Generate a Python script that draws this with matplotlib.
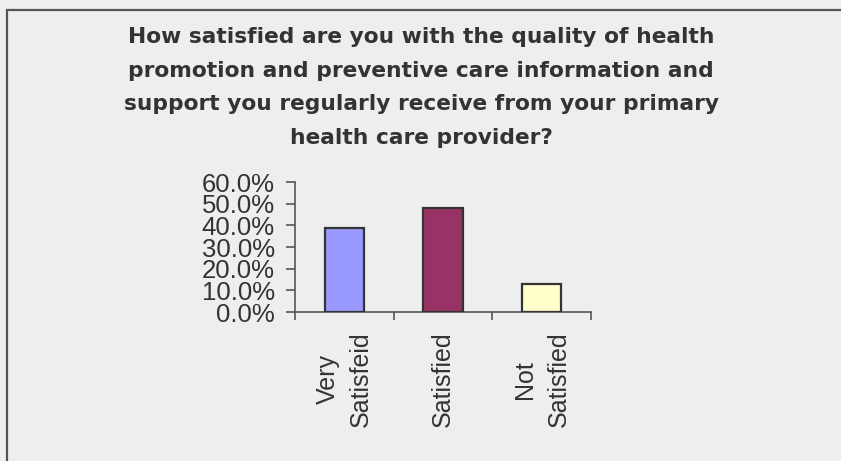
import matplotlib
matplotlib.use("Agg")
import matplotlib.pyplot as plt
from matplotlib.patches import Rectangle

categories = ["Very\nSatisfeid", "Satisfied", "Not\nSatisfied"]
values = [39.0, 48.0, 13.0]
colors = ["#9999FF", "#993366", "#FFFFCC"]
yticks = [0, 10, 20, 30, 40, 50, 60]
title = ("How satisfied are you with the quality of health\n"
         "promotion and preventive care information and\n"
         "support you regularly receive from your primary\n"
         "health care provider?")

W, H = 841, 461
fig = plt.figure(figsize=(W / 100, H / 100), dpi=100, facecolor="#eeeeee")

# border (only top and left visible in the crop)
fig.patches.append(Rectangle((7 / W, -0.1), 1.2, 1.1 - 10 / H, transform=fig.transFigure,
                             fill=False, edgecolor="#555555", linewidth=1.6))

fig.text(0.501, 1 - 27 / H, title, ha="center", va="top", fontsize=15.7, fontweight="bold",
         color="#333333", family="DejaVu Sans", linespacing=1.85)

ax = fig.add_axes([295 / W, (H - 312) / H, 296 / W, 130 / H])
ax.set_facecolor("#eeeeee")
x = list(range(len(values)))
ax.bar(x, values, width=0.4, color=colors, edgecolor="#333333", linewidth=1.6, zorder=3)

ax.set_xlim(-0.5, 2.5)
ax.set_ylim(0, 60)
for s in ["top", "right"]:
    ax.spines[s].set_visible(False)
for s in ["left", "bottom"]:
    ax.spines[s].set_color("#555555")
    ax.spines[s].set_linewidth(1.2)

ax.set_yticks(yticks)
ax.set_yticklabels([f"{v:.1f}%" for v in yticks])
ax.tick_params(axis="y", direction="out", length=6.5, width=1.2, color="#555555",
               pad=8, labelsize=18.5, labelcolor="#333333")

ax.set_xticks([-0.5, 0.5, 1.5, 2.5])
ax.set_xticklabels([])
ax.tick_params(axis="x", which="major", direction="out", length=6, width=1.2, color="#555555")
ax.set_xticks(x, minor=True)
ax.set_xticklabels(categories, minor=True, rotation=90, fontsize=18, color="#333333",
                   linespacing=1.52)
ax.tick_params(axis="x", which="minor", length=0, pad=14)
for lbl in ax.get_xticklabels(minor=True) + ax.get_yticklabels():
    lbl.set_family("Liberation Sans")

fig.savefig("out.png", dpi=100, facecolor=fig.get_facecolor())
